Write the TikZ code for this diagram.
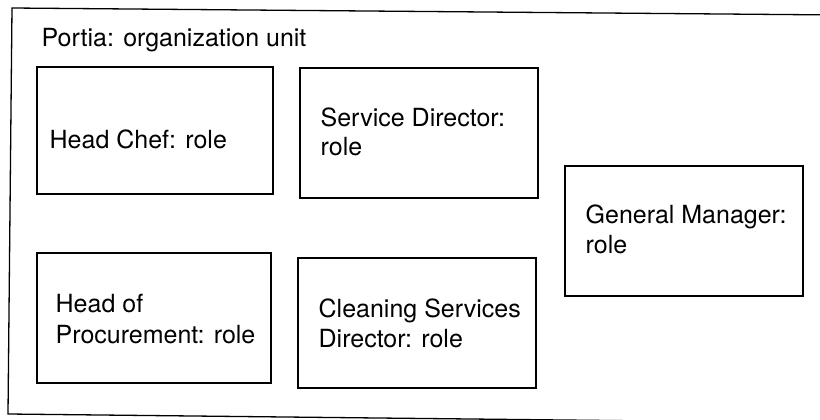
\documentclass[tikz,border=0pt]{standalone}
\usepackage{fontspec}
\setmainfont{TeX Gyre Heros}
\begin{document}
\begin{tikzpicture}[x=1pt,y=-1pt,line width=1.3pt,
  rolebox/.style={draw,rectangle,inner sep=0pt,line width=1.3pt},
  lbl/.style={anchor=base west,inner sep=0pt,font=\fontsize{25}{29}\selectfont}]
\useasboundingbox (0,0) rectangle (820,420);
\clip (0,0) rectangle (820,420);
% outer organization unit (slightly tilted, right side off the page)
\coordinate (otl) at (12,8);
\coordinate (otr) at (840,15);
\coordinate (obr) at (840,423);
\coordinate (obl) at (8,414);
\draw (otl) -- (otr) -- (obr) -- (obl) -- cycle;
\node[lbl] (portia) at (41,47) {Portia: organization unit};
% role boxes
\node[rolebox,minimum width=236pt,minimum height=127pt] (hc) at (155,130.5) {};
\node[rolebox,minimum width=238pt,minimum height=130pt] (sd) at (419,133) {};
\node[rolebox,minimum width=238pt,minimum height=130pt] (gm) at (684,231) {};
\node[rolebox,minimum width=234pt,minimum height=130pt] (hp) at (154,318) {};
\node[rolebox,minimum width=238pt,minimum height=130pt] (cs) at (417,323) {};
% labels
\node[lbl] (hcA) at (49,148) {Head Chef: role};
\node[lbl] (sdA) at (320,127) {Service Director:};
\node[lbl] (sdB) at (320,155) {role};
\node[lbl] (gmA) at (585,223) {General Manager:};
\node[lbl] (gmB) at (585,253) {role};
\node[lbl] (hpA) at (55,312) {Head of};
\node[lbl] (hpB) at (55,343) {Procurement: role};
\node[lbl] (csA) at (318,317) {Cleaning Services};
\node[lbl] (csB) at (318,347) {Director: role};
\end{tikzpicture}
\end{document}
